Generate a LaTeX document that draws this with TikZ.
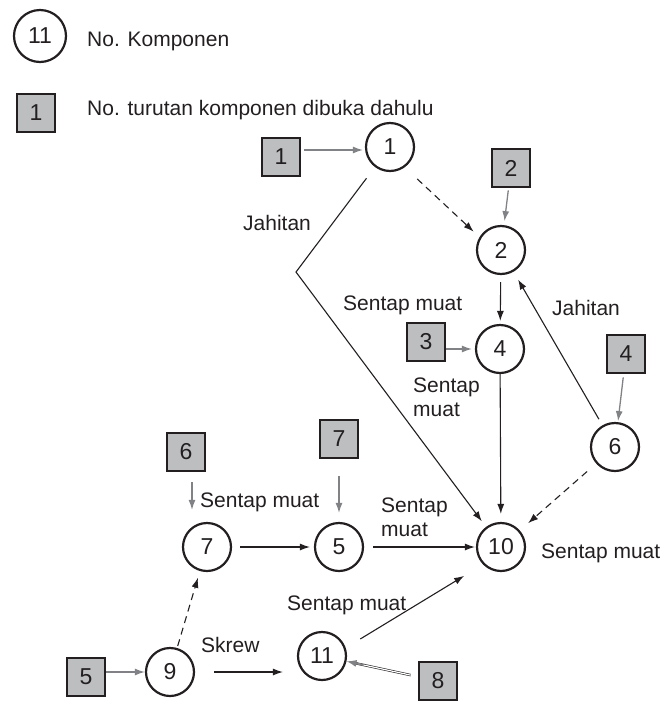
\documentclass[tikz,border=0pt]{standalone}
\usepackage{fontspec}
\setmainfont{Liberation Sans}
\usetikzlibrary{arrows.meta}
\definecolor{boxgray}{HTML}{BCBEC0}
\definecolor{ink}{HTML}{231F20}
\definecolor{linkgray}{HTML}{808285}

\begin{document}
\begin{tikzpicture}[x=1pt,y=-1pt,
  font=\fontsize{21}{24}\selectfont,
  comp/.style={circle, draw=ink, line width=2.2pt, minimum size=48pt, inner sep=0pt, text=ink,
    font=\fontsize{23}{26}\selectfont},
  seq/.style={rectangle, draw=ink, line width=2.4pt, fill=boxgray, minimum size=38.5pt, inner sep=0pt, text=ink,
    font=\fontsize{23}{26}\selectfont},
  flow/.style={draw=ink, line width=1.1pt, -{Latex[length=10pt,width=7pt]}},
  hint/.style={draw=linkgray, line width=1.3pt, -{Latex[length=10pt,width=7pt]}},
  later/.style={flow, dash pattern=on 7pt off 5pt},
  lbl/.style={text=ink, inner sep=0pt, anchor=base west}
]
\useasboundingbox (0,0) rectangle (665,702);

% legend
\node[comp, minimum width=52pt] (legcirc) at (40,36) {11};
\node[lbl] (legtxtA) at (87,46) {No. Komponen};
\node[seq] (legsq) at (36,113) {1};
\node[lbl] (legtxtB) at (87,115) {No. turutan komponen dibuka dahulu};

% component circles
\node[comp] (c1) at (390,147) {1};
\node[comp] (c2) at (501,250) {2};
\node[comp] (c4) at (500,349) {4};
\node[comp] (c6) at (615,447) {6};
\node[comp] (c10) at (501,547) {10};
\node[comp] (c7) at (207,547) {7};
\node[comp] (c5) at (339,547) {5};
\node[comp] (c9) at (170,672) {9};
\node[comp] (c11) at (322,656) {11};

% opening order boxes
\node[seq] (s1) at (281,157) {1};
\node[seq] (s2) at (511,168) {2};
\node[seq] (s3) at (426,342) {3};
\node[seq] (s4) at (626,354) {4};
\node[seq] (s6) at (186,452) {6};
\node[seq] (s7) at (339,439) {7};
\node[seq] (s5) at (86,677) {5};
\node[seq] (s8) at (438,681) {8};

% joint labels
\node[lbl] (jA) at (243,230) {Jahitan};
\node[lbl] (smA) at (343,310) {Sentap muat};
\node[lbl] (jB) at (552,315) {Jahitan};
\node[lbl] (smB1) at (413,392) {Sentap};
\node[lbl] (smB2) at (413,416) {muat};
\node[lbl] (smC1) at (381,512) {Sentap};
\node[lbl] (smC2) at (381,536) {muat};
\node[lbl] (smD) at (541,558) {Sentap muat};
\node[lbl] (smE) at (200,507) {Sentap muat};
\node[lbl] (skrew) at (201,652) {Skrew};
\node[lbl] (smF) at (287,610) {Sentap muat};

% order arrows (grey)
\draw[hint, shorten <=3pt, shorten >=2pt] ([yshift=-3pt]s1.east |- c1) -- ([yshift=-3pt]c1.west);
\draw[hint, shorten <=2pt, shorten >=4pt] (s2) -- (c2);
\draw[hint, shorten >=3pt] (s3.east |- c4) -- (c4);
\draw[hint, shorten <=3pt, shorten >=1pt] (s4) -- (c6);
\draw[hint, shorten <=10pt, shorten >=12pt] ([xshift=6pt]s6.south) -- ([xshift=-15pt]c7.north);
\draw[hint, shorten <=17pt, shorten >=9pt] (s7) -- (c5);
\draw[hint] (s5.east |- c9) -- (c9);
\draw[draw=ink, double=white, double distance=1.2pt, line width=0.6pt,
      shorten <=7pt, shorten >=8pt] (s8) -- (c11);
\draw[hint, shorten <=55pt] (s8) -- (c11);

% joints between components
\coordinate (bend) at (296,272);
\draw[flow, shorten <=14pt, shorten >=7pt] (c1) -- (bend) -- (c10);
\draw[later, shorten <=17pt, shorten >=8pt] (c1.-54.5) -- (c2.149);
\draw[flow, shorten <=7pt, shorten >=3pt] (c2) -- (c4);
\draw[flow, shorten >=8pt] (c4) -- (c10);
\draw[flow, shorten <=7pt, shorten >=9pt] (c6) -- (c2);
\draw[later, shorten <=12pt, shorten >=11pt] (c6) -- (c10);
\draw[flow, shorten <=8pt, shorten >=4pt] (c7) -- (c5);
\draw[flow, shorten <=9pt, shorten >=1pt] (c5) -- (c10);
\draw[later, shorten <=2pt, shorten >=7pt] (c9) -- (c7);
\draw[flow, shorten <=19pt, shorten >=14pt] (c9.east) -- (c9.east -| c11.west);
\draw[flow, shorten <=17pt, shorten >=22pt] (c11.19) -- (c10.224);
\end{tikzpicture}
\end{document}
